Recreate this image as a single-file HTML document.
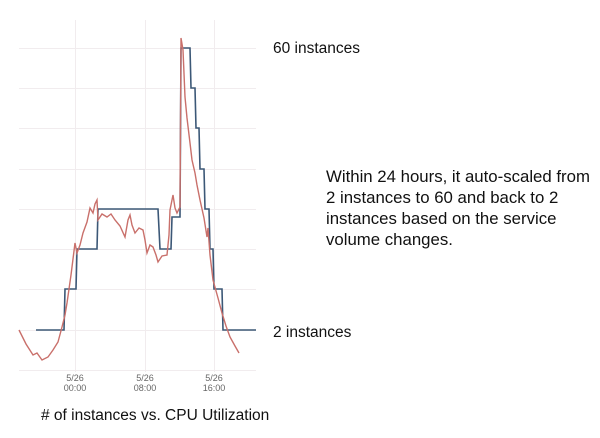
<!DOCTYPE html>
<html><head><style>
body{margin:0;background:#fff;width:600px;height:438px;overflow:hidden;position:relative;font-family:"Liberation Sans",sans-serif}
.t{position:absolute;font-size:15.5px;color:#111;white-space:nowrap;line-height:21px}
</style></head><body>
<svg width="600" height="438" style="position:absolute;left:0;top:0">
<g stroke="#f1ecee" stroke-width="1">
<line x1="19" x2="256" y1="48.5" y2="48.5"/><line x1="19" x2="256" y1="88.5" y2="88.5"/>
<line x1="19" x2="256" y1="128.5" y2="128.5"/><line x1="19" x2="256" y1="169.5" y2="169.5"/>
<line x1="19" x2="256" y1="209.5" y2="209.5"/><line x1="19" x2="256" y1="249.5" y2="249.5"/>
<line x1="19" x2="256" y1="289.5" y2="289.5"/><line x1="19" x2="256" y1="330.5" y2="330.5"/>
<line x1="19" x2="256" y1="370.5" y2="370.5"/>
<line x1="75.5" x2="75.5" y1="20" y2="372"/><line x1="145.5" x2="145.5" y1="20" y2="372"/><line x1="214.5" x2="214.5" y1="20" y2="372"/>
</g>
<polyline fill="none" stroke="#3c5877" stroke-width="1.6" points="36,330 64,330 65,289 76,289 77,249 97,249 98,209 158,209 160,249 171,249 172,217 180,217 181,48 190,48 191,88 195,88 196,128 199,128 200,169 204,169 205,209 209,209 210,249 213,249 214,289 222,289 223,330 256,330"/>
<polyline fill="none" stroke="#c9706b" stroke-width="1.4" points="19,330 26,344 33,355 37,353 42,360 48,357 53,350 58,342 62,327 65,315 67,303 71,275 75,243 77,253 80,245 83,233 87,222 90,208 93,213 95,204 97,200 98,220 102,214 107,217 111,214 115,220 120,226 125,237 128,220 130,215 132,225 135,233 139,228 143,230 145,240 147,253 150,245 153,247 156,255 158,262 162,256 167,255 169,235 170,210 173,195 175,208 177,213 180,207 181,38 183,50 185,97 187,118 190,143 192,160 195,173 197,185 200,200 204,218 207,237 208,228 210,255 213,280 218,298 222,313 226,326 230,337 235,346 239,353"/>
<g font-family="Liberation Sans,sans-serif" font-size="9" fill="#666" text-anchor="middle">
<text x="75" y="381">5/26</text><text x="75" y="391">00:00</text>
<text x="145" y="381">5/26</text><text x="145" y="391">08:00</text>
<text x="214" y="381">5/26</text><text x="214" y="391">16:00</text>
</g>
</svg>
<div class="t" style="left:273px;top:38px">60 instances</div>
<div class="t" style="left:326px;top:166px;font-size:16.8px">Within 24 hours, it auto-scaled from<br>2 instances to 60 and back to 2<br>instances based on the service<br>volume changes.</div>
<div class="t" style="left:273px;top:322px">2 instances</div>
<div class="t" style="left:41px;top:405px"># of instances vs. CPU Utilization</div>
</body></html>
